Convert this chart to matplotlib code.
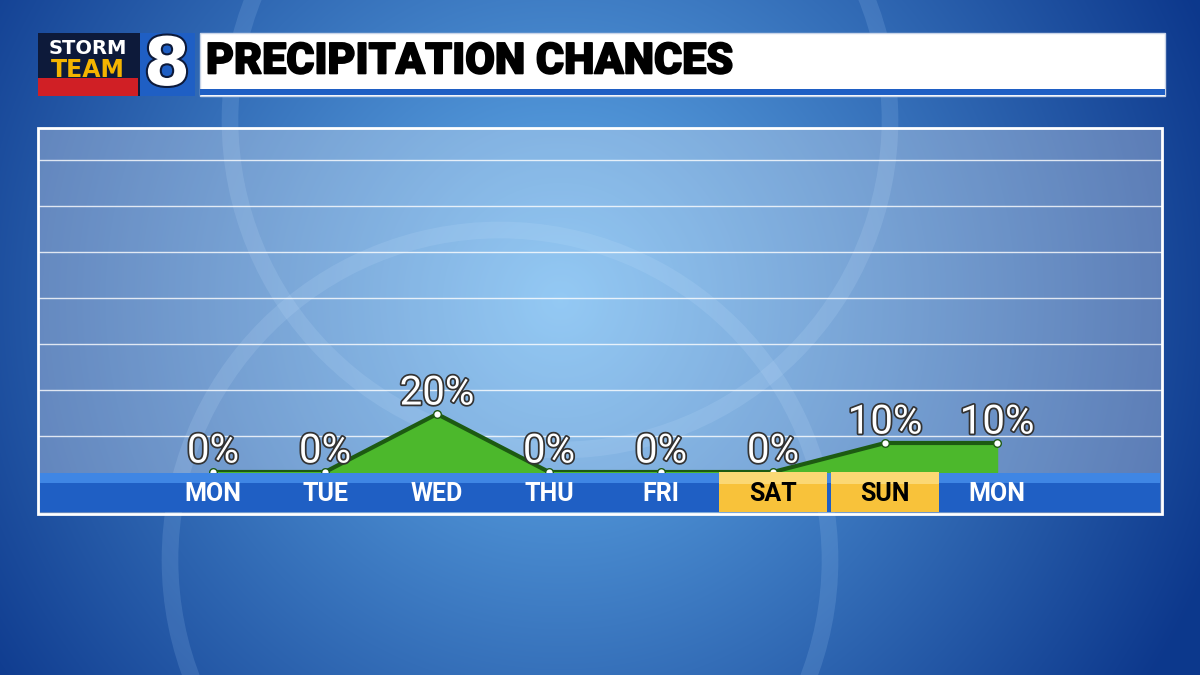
import numpy as np
import matplotlib
matplotlib.use("Agg")
import matplotlib.pyplot as plt
import matplotlib.patheffects as pe
from matplotlib.patches import Rectangle, Circle

days = ["MON", "TUE", "WED", "THU", "FRI", "SAT", "SUN", "MON"]
chances = [0, 0, 20, 0, 0, 0, 10, 10]
labels = ["0%", "0%", "20%", "0%", "0%", "0%", "10%", "10%"]
weekend = ["SAT", "SUN"]
title = "PRECIPITATION CHANCES"

fig = plt.figure(figsize=(12, 6.75), dpi=100)
bg = fig.add_axes([0, 0, 1, 1])
bg.set_xlim(0, 1200); bg.set_ylim(675, 0); bg.axis("off")
yy, xx = np.mgrid[0:675, 0:1200]
r = np.hypot(xx - 560, yy - 300) / 700
c0 = np.array([0.40, 0.70, 0.94]); c1 = np.array([0.05, 0.22, 0.55])
t = np.clip(r, 0, 1)[..., None]
img = c0 * (1 - t) + c1 * t
bg.imshow(img, extent=[0, 1200, 675, 0], zorder=0)
for cx, cy, rad in [(560, 120, 330), (500, 560, 330)]:
    bg.add_patch(Circle((cx, cy), rad, fill=False, ec=(0.7, 0.85, 1, 0.15), lw=12, zorder=1))

# header
bg.add_patch(Rectangle((38, 33), 157, 63, fc="#0d1a3a", zorder=2))
bg.add_patch(Rectangle((38, 78), 100, 18, fc="#d01f25", zorder=3))
bg.text(88, 48, "STORM", color="white", fontsize=14, fontweight="bold", ha="center", va="center", zorder=4)
bg.text(88, 70, "TEAM", color="#f4b400", fontsize=17, fontweight="bold", ha="center", va="center", zorder=4)
bg.add_patch(Rectangle((140, 33), 55, 63, fc="#1f5fc4", zorder=3))
bg.text(167, 66, "8", color="white", fontsize=48, fontweight="bold", ha="center", va="center", zorder=4,
        path_effects=[pe.withStroke(linewidth=3, foreground="#0d1a3a")])
bg.add_patch(Rectangle((200, 33), 965, 63, fc="white", ec="#c8d4e8", lw=1, zorder=2))
bg.add_patch(Rectangle((200, 89), 965, 6, fc="#1f5fc4", zorder=3))
bg.text(206, 62, title, color="black", fontsize=31, fontweight="heavy", ha="left", va="center", zorder=4,
        family="Roboto", path_effects=[pe.withStroke(linewidth=1.2, foreground="black")])

# panel
bg.add_patch(Rectangle((38, 128), 1124, 386, fc=(1, 1, 1, 0.3), ec="white", lw=2, zorder=2))
bg.add_patch(Rectangle((40, 473), 1120, 39, fc="#1f5fc4", zorder=3))
bg.add_patch(Rectangle((40, 473), 1120, 10, fc="#3f86e4", zorder=3))

ax = fig.add_axes([38 / 1200, (675 - 472) / 675, 1124 / 1200, 344 / 675])
ax.set_xlim(-1.5625, 8.473)
ax.set_ylim(0, 118.6)
ax.axis("off")
ax.patch.set_alpha(0)
for gy in [436, 390, 344, 298, 252, 206, 160]:
    ax.axhline((472 - gy) / 2.9, color=(1, 1, 1, 0.8), lw=1)
x = np.arange(len(days))
ax.fill_between(x, chances, 0, color="#4cb82c", zorder=3)
ax.plot(x, chances, color="#1d5a12", lw=3, zorder=4)
ax.scatter(x, chances, s=30, color="white", ec="#1d5a12", zorder=5)
for xi, v, lab in zip(x, chances, labels):
    ax.text(xi, v + 0.5, lab, color="white", fontsize=29, ha="center", va="bottom", zorder=6,
            family="Roboto",
            path_effects=[pe.withStroke(linewidth=2.5, foreground="#333333")])

tx = fig.add_axes([38 / 1200, (675 - 512) / 675, 1124 / 1200, 40 / 675])
tx.set_xlim(-1.5625, 8.473); tx.set_ylim(0, 1); tx.axis("off"); tx.patch.set_alpha(0)
for xi, d in zip(x, days):
    if d in weekend:
        tx.add_patch(Rectangle((xi - 0.48, 0), 0.96, 1, fc="#f8c23a", zorder=1))
        tx.add_patch(Rectangle((xi - 0.48, 0.7), 0.96, 0.3, fc="#fbd874", zorder=1))
        col = "black"
    else:
        col = "white"
    tx.text(xi, 0.45, d, color=col, fontsize=18, fontweight="bold", ha="center", va="center",
            family="Roboto", zorder=2)

fig.savefig("out.png", dpi=100)
